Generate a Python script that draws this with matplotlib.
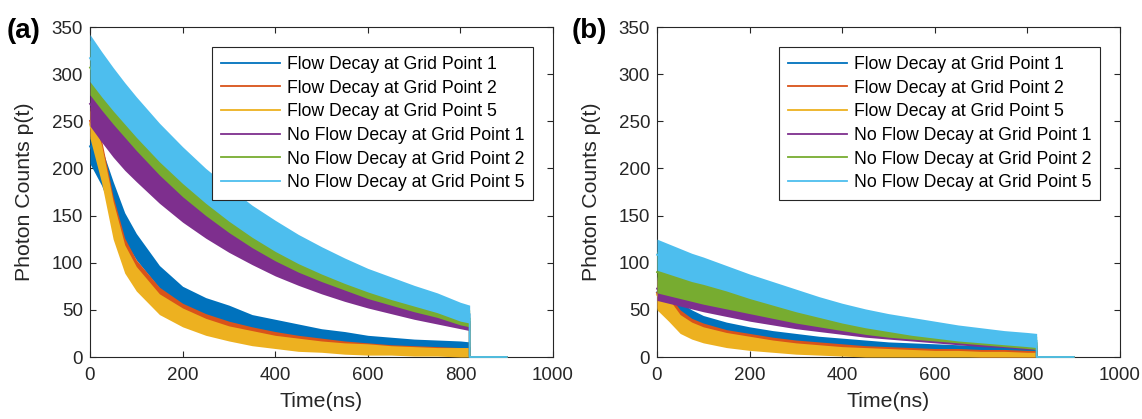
import numpy as np
import matplotlib.pyplot as plt

plt.rcParams['font.family'] = ['Liberation Sans', 'DejaVu Sans']

# sample times (ns); counts drop to zero after the last one until t_end
t_ns = [0, 25, 50, 75, 100, 150, 200, 250, 300, 350, 400, 450, 500, 550, 600, 650, 700, 750, 800, 820]
t_end = 900

labels = ['Flow Decay at Grid Point 1', 'Flow Decay at Grid Point 2', 'Flow Decay at Grid Point 5',
          'No Flow Decay at Grid Point 1', 'No Flow Decay at Grid Point 2', 'No Flow Decay at Grid Point 5']
colors = ['#0072BD', '#D95319', '#EDB120', '#7E2F8E', '#77AC30', '#4DBEEE']

# panel (a): lower / upper edge of each noisy trace
a_blue_lo = [205, 182, 150, 123, 103, 73, 53, 43, 35, 27, 22, 19, 16, 13, 11, 9, 7, 6, 5, 4]
a_blue_hi = [242, 222, 186, 153, 131, 97, 75, 63, 55, 45, 40, 35, 30, 27, 23, 21, 19, 18, 17, 16]
a_orange_lo = [235, 192, 133, 96, 78, 52, 38, 28, 22, 17, 13, 10, 8, 6, 5, 4, 3, 3, 2, 2]
a_orange_hi = [266, 230, 170, 126, 103, 74, 57, 46, 38, 32, 27, 23, 20, 17, 15, 13, 12, 11, 10, 10]
a_yellow_lo = [232, 185, 125, 89, 70, 45, 32, 23, 17, 12, 9, 6, 5, 3, 2, 2, 1, 1, 0, 0]
a_yellow_hi = [262, 225, 165, 119, 96, 67, 52, 41, 33, 28, 23, 20, 17, 15, 14, 12, 11, 10, 10, 10]
a_purple_lo = [245, 228, 212, 198, 186, 163, 143, 126, 111, 98, 86, 76, 67, 59, 52, 46, 40, 35, 30, 28]
a_purple_hi = [292, 276, 262, 248, 234, 208, 185, 165, 147, 130, 116, 104, 94, 85, 77, 70, 63, 57, 50, 47]
a_green_lo = [278, 262, 247, 233, 219, 193, 170, 150, 132, 116, 102, 90, 80, 71, 62, 55, 48, 42, 34, 32]
a_green_hi = [336, 318, 301, 285, 270, 242, 217, 194, 174, 155, 139, 124, 111, 99, 88, 79, 70, 62, 52, 50]
a_cyan_lo = [292, 276, 261, 247, 233, 207, 184, 163, 144, 127, 112, 99, 88, 78, 69, 61, 54, 47, 38, 36]
a_cyan_hi = [342, 324, 307, 291, 276, 248, 223, 200, 180, 161, 145, 130, 117, 105, 94, 85, 76, 68, 58, 55]

# panel (b)
b_blue_lo = [52, 44, 36, 30, 26, 21, 18, 16, 14, 12, 10, 9, 8, 7, 6, 5, 4, 4, 3, 3]
b_blue_hi = [85, 70, 58, 50, 44, 37, 32, 28, 25, 22, 20, 18, 16, 15, 14, 13, 12, 11, 10, 10]
b_orange_lo = [52, 40, 27, 21, 17, 12, 9, 7, 5, 4, 3, 2, 2, 1, 1, 1, 0, 0, 0, 0]
b_orange_hi = [84, 66, 50, 41, 36, 29, 25, 21, 18, 16, 14, 12, 11, 10, 9, 9, 8, 8, 7, 7]
b_yellow_lo = [50, 38, 25, 19, 15, 10, 7, 5, 3, 2, 1, 0, 0, 0, 0, 0, 0, 0, 0, 0]
b_yellow_hi = [82, 62, 45, 37, 32, 26, 22, 18, 15, 13, 11, 10, 9, 8, 7, 7, 6, 6, 5, 5]
b_purple_lo = [60, 57, 54, 51, 48, 43, 38, 34, 30, 27, 24, 21, 19, 17, 15, 13, 11, 10, 8, 8]
b_purple_hi = [85, 81, 77, 73, 69, 62, 56, 51, 46, 41, 37, 33, 30, 27, 24, 22, 20, 18, 16, 15]
b_green_lo = [68, 65, 62, 59, 56, 51, 46, 41, 36, 32, 28, 24, 21, 19, 17, 15, 13, 11, 9, 8]
b_green_hi = [112, 108, 104, 100, 96, 88, 80, 72, 65, 58, 51, 46, 41, 37, 33, 30, 27, 25, 23, 22]
b_cyan_lo = [92, 88, 84, 80, 77, 70, 62, 55, 48, 42, 36, 31, 27, 23, 20, 17, 15, 13, 11, 10]
b_cyan_hi = [125, 120, 115, 110, 106, 97, 88, 80, 72, 64, 57, 51, 46, 42, 38, 34, 31, 28, 26, 25]

x_ticks = [0, 200, 400, 600, 800, 1000]
y_ticks = [0, 50, 100, 150, 200, 250, 300, 350]

DARK = '#262626'


def draw_panel(ax, bands):
    """draw each decay as a filled noise band with its mean trace"""
    for i, ((lo, hi), c, lab) in enumerate(zip(bands, colors, labels)):
        lo = np.array(lo, dtype=float)
        hi = np.array(hi, dtype=float)
        ax.fill_between(t_ns, lo, hi, color=c, lw=0, zorder=3 + 2 * i)
        mid = (lo + hi) / 2
        ax.plot(t_ns + [t_ns[-1], t_end], list(mid) + [0, 0], color=c, lw=1.3,
                label=lab, zorder=4 + 2 * i, clip_on=False)

    ax.set_xlim(0, 1000)
    ax.set_ylim(0, 350)
    ax.set_xticks(x_ticks)
    ax.set_yticks(y_ticks)
    ax.tick_params(direction='in', top=True, right=True, length=4, width=0.8,
                   labelsize=13.5, colors=DARK)
    ax.tick_params(axis='x', pad=7)
    ax.tick_params(axis='y', pad=5)
    for s in ax.spines.values():
        s.set_color(DARK)
        s.set_linewidth(0.8)
        s.set_zorder(2)

    ax.set_xlabel('Time(ns)', fontsize=15.3, color=DARK)
    ax.xaxis.set_label_coords(0.5, -0.105)
    ax.set_ylabel('Photon Counts p(t)', fontsize=15.3, color=DARK)
    ax.yaxis.set_label_coords(-0.121, 0.5)

    leg = ax.legend(loc='upper right', bbox_to_anchor=(1 - 20 / 463, 1 - 20 / 330),
                    borderaxespad=0, fontsize=12.7, handlelength=3.35, handletextpad=0.4,
                    labelspacing=0.38, borderpad=0.5, fancybox=False, framealpha=1,
                    edgecolor=DARK)
    leg.get_frame().set_linewidth(0.8)
    leg.set_zorder(30)


fig = plt.figure(figsize=(11.42, 4.19), dpi=100)
ax_a = fig.add_axes([90 / 1142, 62 / 419, 463 / 1142, 330 / 419])
ax_b = fig.add_axes([657 / 1142, 62 / 419, 463 / 1142, 330 / 419])

draw_panel(ax_a, [(a_blue_lo, a_blue_hi), (a_orange_lo, a_orange_hi), (a_yellow_lo, a_yellow_hi),
                  (a_purple_lo, a_purple_hi), (a_green_lo, a_green_hi), (a_cyan_lo, a_cyan_hi)])
draw_panel(ax_b, [(b_blue_lo, b_blue_hi), (b_orange_lo, b_orange_hi), (b_yellow_lo, b_yellow_hi),
                  (b_purple_lo, b_purple_hi), (b_green_lo, b_green_hi), (b_cyan_lo, b_cyan_hi)])

fig.text(7 / 1142, 1 - 31 / 419, '(a)', fontsize=20, fontweight='bold', va='center', ha='left')
fig.text(572 / 1142, 1 - 31 / 419, '(b)', fontsize=20, fontweight='bold', va='center', ha='left')

fig.savefig('out.png', dpi=100)
